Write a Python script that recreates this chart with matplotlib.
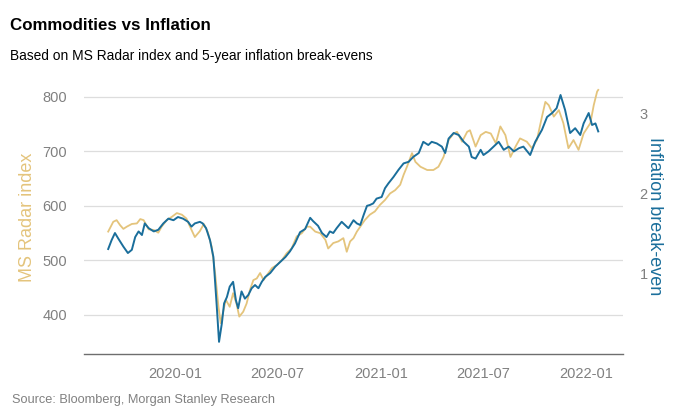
import pandas as pd
import matplotlib
matplotlib.use("Agg")
import matplotlib.pyplot as plt
import matplotlib.dates as mdates

plt.rcParams['font.family'] = ['Liberation Sans', 'DejaVu Sans']

# MS Radar index (left axis)
radar_dates = [
    '2019-09-04', '2019-09-13', '2019-09-19', '2019-09-25', '2019-10-01', '2019-10-07',
    '2019-10-16', '2019-10-25', '2019-10-31', '2019-11-06', '2019-11-15', '2019-11-24',
    '2019-12-02', '2019-12-08', '2019-12-17', '2019-12-26', '2020-01-04', '2020-01-13',
    '2020-01-21', '2020-01-27', '2020-02-05', '2020-02-14', '2020-02-21', '2020-02-28',
    '2020-03-06', '2020-03-12', '2020-03-18', '2020-03-22', '2020-03-27', '2020-03-31',
    '2020-04-07', '2020-04-13', '2020-04-19', '2020-04-24', '2020-05-01', '2020-05-07',
    '2020-05-13', '2020-05-19', '2020-05-25', '2020-05-31', '2020-06-06', '2020-06-12',
    '2020-06-21', '2020-06-30', '2020-07-09', '2020-07-17', '2020-07-26', '2020-08-04',
    '2020-08-13', '2020-08-22', '2020-08-28', '2020-09-06', '2020-09-15', '2020-09-24',
    '2020-09-29', '2020-10-08', '2020-10-17', '2020-10-26', '2020-11-01', '2020-11-07',
    '2020-11-13', '2020-11-19', '2020-11-25', '2020-12-03', '2020-12-12', '2020-12-21',
    '2020-12-30', '2021-01-08', '2021-01-17', '2021-01-26', '2021-02-04', '2021-02-10',
    '2021-02-16', '2021-02-25', '2021-03-03', '2021-03-12', '2021-03-24', '2021-04-04',
    '2021-04-13', '2021-04-22', '2021-05-01', '2021-05-10', '2021-05-16', '2021-05-25',
    '2021-06-03', '2021-06-08', '2021-06-18', '2021-06-27', '2021-07-06', '2021-07-15',
    '2021-07-24', '2021-08-01', '2021-08-10', '2021-08-19', '2021-08-28', '2021-09-05',
    '2021-09-17', '2021-09-26', '2021-10-05', '2021-10-14', '2021-10-20', '2021-10-26',
    '2021-11-04', '2021-11-13', '2021-11-21', '2021-11-30', '2021-12-09', '2021-12-18',
    '2021-12-27', '2022-01-08', '2022-01-14', '2022-01-20', '2022-01-22',
]
radar_values = [
    553, 571, 574, 565, 558, 562,
    567, 568, 576, 574, 557, 556,
    551, 562, 574, 580, 587, 584,
    577, 563, 543, 554, 567, 552,
    525, 477, 415, 385, 409, 428,
    415, 440, 421, 397, 406, 421,
    446, 464, 467, 477, 464, 473,
    486, 492, 501, 513, 522, 544,
    550, 562, 562, 553, 550, 538,
    522, 532, 535, 541, 516, 535,
    541, 553, 562, 574, 584, 590,
    602, 611, 623, 629, 639, 657,
    672, 697, 681, 672, 666, 666,
    672, 690, 721, 733, 736, 718,
    736, 739, 709, 730, 736, 733,
    715, 746, 730, 690, 709, 724,
    718, 706, 721, 764, 791, 785,
    764, 776, 752, 706, 721, 703,
    733, 752, 785, 810, 813,
]

# 5-year inflation break-even (right axis)
be_dates = [
    '2019-09-04', '2019-09-10', '2019-09-16', '2019-09-22', '2019-10-01', '2019-10-09',
    '2019-10-16', '2019-10-22', '2019-10-28', '2019-11-03', '2019-11-08', '2019-11-15',
    '2019-11-24', '2019-12-02', '2019-12-11', '2019-12-20', '2019-12-29', '2020-01-06',
    '2020-01-15', '2020-01-24', '2020-01-30', '2020-02-05', '2020-02-14', '2020-02-19',
    '2020-02-25', '2020-03-03', '2020-03-09', '2020-03-15', '2020-03-19', '2020-03-24',
    '2020-03-28', '2020-04-02', '2020-04-07', '2020-04-13', '2020-04-18', '2020-04-22',
    '2020-04-28', '2020-05-04', '2020-05-10', '2020-05-16', '2020-05-22', '2020-05-28',
    '2020-06-03', '2020-06-09', '2020-06-18', '2020-06-27', '2020-07-06', '2020-07-15',
    '2020-07-23', '2020-08-01', '2020-08-10', '2020-08-19', '2020-08-28', '2020-09-02',
    '2020-09-11', '2020-09-18', '2020-09-26', '2020-10-02', '2020-10-08', '2020-10-14',
    '2020-10-23', '2020-10-29', '2020-11-04', '2020-11-13', '2020-11-19', '2020-11-25',
    '2020-12-01', '2020-12-07', '2020-12-12', '2020-12-18', '2020-12-24', '2021-01-02',
    '2021-01-08', '2021-01-14', '2021-01-23', '2021-02-01', '2021-02-10', '2021-02-19',
    '2021-02-27', '2021-03-09', '2021-03-17', '2021-03-26', '2021-04-01', '2021-04-10',
    '2021-04-19', '2021-04-25', '2021-05-01', '2021-05-10', '2021-05-19', '2021-05-28',
    '2021-06-06', '2021-06-11', '2021-06-18', '2021-06-27', '2021-07-02', '2021-07-11',
    '2021-07-20', '2021-07-29', '2021-08-07', '2021-08-16', '2021-08-25', '2021-09-03',
    '2021-09-11', '2021-09-23', '2021-10-02', '2021-10-14', '2021-10-23', '2021-11-01',
    '2021-11-09', '2021-11-16', '2021-11-24', '2021-12-03', '2021-12-12', '2021-12-21',
    '2021-12-27', '2022-01-05', '2022-01-11', '2022-01-17', '2022-01-22',
]
be_values = [
    1.30, 1.41, 1.50, 1.43, 1.33, 1.25,
    1.29, 1.45, 1.52, 1.475, 1.62, 1.56,
    1.52, 1.54, 1.62, 1.68, 1.66, 1.70,
    1.68, 1.64, 1.58, 1.62, 1.64, 1.62,
    1.56, 1.41, 1.20, 0.58, 0.14, 0.37,
    0.62, 0.70, 0.83, 0.89, 0.66, 0.56,
    0.77, 0.68, 0.725, 0.81, 0.85, 0.81,
    0.89, 0.95, 1.00, 1.08, 1.14, 1.20,
    1.27, 1.37, 1.51, 1.55, 1.69, 1.65,
    1.59, 1.50, 1.45, 1.52, 1.50, 1.56,
    1.64, 1.60, 1.56, 1.66, 1.62, 1.60,
    1.725, 1.84, 1.85, 1.87, 1.93, 1.95,
    2.06, 2.12, 2.20, 2.29, 2.37, 2.39,
    2.45, 2.50, 2.64, 2.60, 2.64, 2.62,
    2.58, 2.50, 2.68, 2.75, 2.725, 2.64,
    2.58, 2.45, 2.43, 2.54, 2.475, 2.52,
    2.58, 2.64, 2.54, 2.58, 2.52, 2.56,
    2.58, 2.475, 2.64, 2.79, 2.95, 3.00,
    3.06, 3.225, 3.04, 2.75, 2.81, 2.725,
    2.87, 3.00, 2.85, 2.87, 2.77,
]

GOLD = '#E4C47C'
BLUE = '#1A6E9B'
GREY = '#808080'

fig = plt.figure(figsize=(6.8, 4.2), dpi=100)
ax = fig.add_axes([84 / 680, 1 - 354 / 420, (623 - 84) / 680, (354 - 85) / 420])
ax2 = ax.twinx()

ax.plot(pd.to_datetime(radar_dates), radar_values, color=GOLD, lw=1.3)
ax2.plot(pd.to_datetime(be_dates), be_values, color=BLUE, lw=1.4)

ax.set_xlim(pd.Timestamp('2019-07-23'), pd.Timestamp('2022-03-07'))
ax.set_ylim(328.4, 822)
ax2.set_ylim(-0.012, 3.35)
ax.set_yticks([400, 500, 600, 700, 800])
ax2.set_yticks([1, 2, 3])
ax.xaxis.set_major_locator(mdates.MonthLocator(bymonth=[1, 7]))
ax.xaxis.set_major_formatter(mdates.DateFormatter('%Y-%m'))

ax.grid(axis='y', color='#DDDDDD', lw=0.9)
ax.set_axisbelow(True)
for a in (ax, ax2):
    for s in ['top', 'left', 'right', 'bottom']:
        a.spines[s].set_visible(False)
ax.spines['bottom'].set_visible(True)
ax.spines['bottom'].set_color('#6E6E6E')
ax.spines['bottom'].set_linewidth(1.0)

ax.tick_params(axis='x', length=0, labelsize=10.5, labelcolor=GREY, pad=9)
ax.tick_params(axis='y', length=0, labelsize=10.5, labelcolor=GREY, pad=12)
ax2.tick_params(axis='y', length=0, labelsize=10.5, labelcolor=GREY, pad=12)

fig.text(28 / 680, 1 - 217 / 420, 'MS Radar index', rotation=90, color=GOLD,
         fontsize=13, ha='center', va='center')
fig.text(655 / 680, 1 - 216 / 420, 'Inflation break-even', rotation=270, color=BLUE,
         fontsize=13, ha='center', va='center')

fig.text(10 / 680, 1 - 25 / 420, 'Commodities vs Inflation', fontsize=12.2,
         fontweight='bold', ha='left', va='center')
fig.text(10 / 680, 1 - 56 / 420, 'Based on MS Radar index and 5-year inflation break-evens',
         fontsize=9.9, ha='left', va='center')
fig.text(12 / 680, 1 - 400 / 420, 'Source: Bloomberg, Morgan Stanley Research',
         fontsize=9.2, color=GREY, ha='left', va='center')

fig.savefig('out.png', dpi=100)
